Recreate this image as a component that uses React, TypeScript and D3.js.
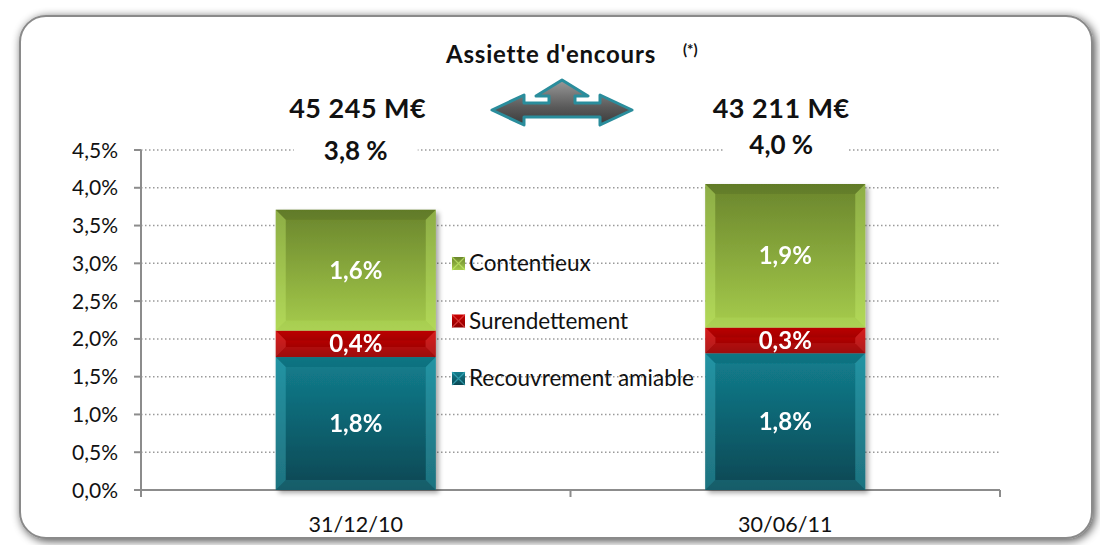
import * as d3 from 'd3'

const DATES = ['31/12/10', '30/06/11']
const SERIES = ['Recouvrement amiable', 'Surendettement', 'Contentieux']
const RECOUVREMENT = [1.76, 1.81]
const SURENDETTEMENT = [0.35, 0.34]
const CONTENTIEUX = [1.6, 1.9]
const LABELS_RECOUVREMENT = ['1,8%', '1,8%']
const LABELS_SURENDETTEMENT = ['0,4%', '0,3%']
const LABELS_CONTENTIEUX = ['1,6%', '1,9%']
const ENCOURS = ['45 245 M€', '43 211 M€']
const TAUX = ['3,8 %', '4,0 %']
const Y_TICKS = [0, 0.5, 1, 1.5, 2, 2.5, 3, 3.5, 4, 4.5]

const FONT = 'Lato, "Open Sans", sans-serif'

// gradient stops for each series: [top, bottom, bevel light]
const PALETTE = {
  'Recouvrement amiable': ['#137f8f', '#0a4753', '#3fb3c4'],
  'Surendettement': ['#cc0000', '#8a0000', '#e84a4a'],
  'Contentieux': ['#6a852c', '#a6cc4c', '#c4ec6c']
}

export default function App() {
  const W = 1100
  const H = 545
  const left = 141
  const right = 1000
  const top = 150
  const bottom = 490

  const x = d3.scaleBand().domain(DATES).range([left, right])
  const y = d3.scaleLinear().domain([0, 4.5]).range([bottom, top])
  const barW = 160

  const stackData = DATES.map((d, i) => ({
    date: d,
    'Recouvrement amiable': RECOUVREMENT[i],
    'Surendettement': SURENDETTEMENT[i],
    'Contentieux': CONTENTIEUX[i]
  }))
  const labelMap: Record<string, string[]> = {
    'Recouvrement amiable': LABELS_RECOUVREMENT,
    'Surendettement': LABELS_SURENDETTEMENT,
    'Contentieux': LABELS_CONTENTIEUX
  }
  const stacked = d3.stack<any>().keys(SERIES)(stackData)

  const fmt = (v: number) => v.toFixed(1).replace('.', ',') + '%'
  const bevel = 10

  // arrow shape around a centre point
  const ax = 562
  const ay = 110
  const arrow = d3.path()
  arrow.moveTo(ax - 70, ay)
  arrow.lineTo(ax - 38, ay - 15)
  arrow.lineTo(ax - 38, ay - 7)
  arrow.lineTo(ax - 13, ay - 7)
  arrow.lineTo(ax - 13, ay - 14)
  arrow.lineTo(ax - 26, ay - 14)
  arrow.lineTo(ax, ay - 30)
  arrow.lineTo(ax + 26, ay - 14)
  arrow.lineTo(ax + 13, ay - 14)
  arrow.lineTo(ax + 13, ay - 7)
  arrow.lineTo(ax + 38, ay - 7)
  arrow.lineTo(ax + 38, ay - 15)
  arrow.lineTo(ax + 70, ay)
  arrow.lineTo(ax + 38, ay + 15)
  arrow.lineTo(ax + 38, ay + 7)
  arrow.lineTo(ax - 38, ay + 7)
  arrow.lineTo(ax - 38, ay + 15)
  arrow.closePath()

  return (
    <svg width={W} height={H} style={{ display: 'block', position: 'absolute', left: 0, top: 0 }}>
      <defs>
        <filter id="frameShadow" x="-5%" y="-5%" width="110%" height="110%">
          <feGaussianBlur in="SourceAlpha" stdDeviation="5" />
          <feOffset dx="2" dy="2" result="b" />
          <feComponentTransfer><feFuncA type="linear" slope="0.7" /></feComponentTransfer>
          <feMerge><feMergeNode /><feMergeNode in="SourceGraphic" /></feMerge>
        </filter>
        <filter id="barShadow" x="-10%" y="-10%" width="125%" height="125%">
          <feGaussianBlur in="SourceAlpha" stdDeviation="2.5" />
          <feOffset dx="3" dy="3" />
          <feComponentTransfer><feFuncA type="linear" slope="0.35" /></feComponentTransfer>
          <feMerge><feMergeNode /><feMergeNode in="SourceGraphic" /></feMerge>
        </filter>
        <linearGradient id="arrowFill" x1="0" y1="0" x2="0" y2="1">
          <stop offset="0%" stopColor="#9a9a9a" />
          <stop offset="60%" stopColor="#5a5a5a" />
          <stop offset="100%" stopColor="#3a3a3a" />
        </linearGradient>
        {SERIES.map(s => (
          <linearGradient key={s} id={`g-${s.replace(/ /g, '')}`} x1="0" y1="0" x2="0" y2="1">
            <stop offset="0%" stopColor={PALETTE[s][0]} />
            <stop offset="100%" stopColor={PALETTE[s][1]} />
          </linearGradient>
        ))}
      </defs>

      {/* frame */}
      <rect x={20} y={16} width={1072} height={522} rx={26} fill="#fff" stroke="#8a8a8a" strokeWidth={2} filter="url(#frameShadow)" />

      {/* gridlines */}
      {Y_TICKS.filter(t => t > 0).map(t => (
        <line key={t} x1={left} x2={right} y1={y(t)} y2={y(t)} stroke="#9a9a9a" strokeWidth={1.5} strokeDasharray="1.5,2.5" />
      ))}

      {/* axes */}
      <line x1={left} x2={left} y1={top} y2={bottom + 7} stroke="#8c8c8c" strokeWidth={2} />
      {Y_TICKS.map(t => (
        <g key={t}>
          <line x1={left - 7} x2={left} y1={y(t)} y2={y(t)} stroke="#8c8c8c" strokeWidth={2} />
          <text x={left - 23} y={y(t)} dy="0.36em" textAnchor="end" fontFamily={FONT} fontSize={21} fill="#111">{fmt(t)}</text>
        </g>
      ))}
      <line x1={left} x2={right} y1={bottom} y2={bottom} stroke="#8c8c8c" strokeWidth={2} />
      {[left, ...DATES.map(d => (x(d) as number) + x.bandwidth())].map((px, i) => (
        <line key={i} x1={px} x2={px} y1={bottom} y2={bottom + 7} stroke="#8c8c8c" strokeWidth={2} />
      ))}
      {DATES.map(d => (
        <text key={d} x={(x(d) as number) + x.bandwidth() / 2} y={bottom + 42} textAnchor="middle" fontFamily={FONT} fontSize={21.5} fill="#111">{d}</text>
      ))}

      {/* bars */}
      {DATES.map((d, i) => {
        const cx = (x(d) as number) + x.bandwidth() / 2
        const x0 = cx - barW / 2
        const x1 = cx + barW / 2
        return (
          <g key={d} filter="url(#barShadow)">
            {stacked.map(layer => {
              const s = layer.key
              const y0 = y(layer[i][1])
              const y1 = y(layer[i][0])
              const h = y1 - y0
              const b = Math.min(bevel, h / 2)
              const light = PALETTE[s][2]
              return (
                <g key={s}>
                  <rect x={x0} y={y0} width={barW} height={h} fill={`url(#g-${s.replace(/ /g, '')})`} />
                  <polygon points={`${x0},${y0} ${x0 + b},${y0 + b} ${x0 + b},${y1 - b} ${x0},${y1}`} fill={light} opacity={0.4} />
                  <polygon points={`${x1},${y0} ${x1 - b},${y0 + b} ${x1 - b},${y1 - b} ${x1},${y1}`} fill={light} opacity={0.4} />
                  <polygon points={`${x0},${y0} ${x1},${y0} ${x1 - b},${y0 + b} ${x0 + b},${y0 + b}`} fill="#000" opacity={0.08} />
                  <polygon points={`${x0},${y1} ${x1},${y1} ${x1 - b},${y1 - b} ${x0 + b},${y1 - b}`} fill={light} opacity={0.2} />
                  <text x={cx} y={(y0 + y1) / 2} dy="0.36em" textAnchor="middle" fontFamily={FONT} fontWeight="bold" fontSize={24} fill="#fff">{labelMap[s][i]}</text>
                </g>
              )
            })}
          </g>
        )
      })}

      {/* legend */}
      {[...SERIES].reverse().map((s, i) => {
        const ly = 263 + i * 57.5
        return (
          <g key={s}>
            <rect x={452} y={ly - 6} width={13} height={13} fill={`url(#g-${s.replace(/ /g, '')})`} />
            <path d={`M452,${ly - 6} L465,${ly + 7} M465,${ly - 6} L452,${ly + 7}`} stroke={PALETTE[s][2]} strokeWidth={1.2} opacity={0.7} />
            <text x={469} y={ly} dy="0.36em" fontFamily={FONT} fontSize={22.5} fill="#111">{s}</text>
          </g>
        )
      })}

      {/* header: title, arrow, totals */}
      <text x={551} y={63} textAnchor="middle" fontFamily={FONT} fontWeight="bold" fontSize={24} letterSpacing={0.8} fill="#111">Assiette d'encours</text>
      <text x={683} y={55} fontFamily={FONT} fontWeight="bold" fontSize={15} fill="#111">(*)</text>
      <path d={arrow.toString()} fill="url(#arrowFill)" stroke="#2a8d9c" strokeWidth={3} strokeLinejoin="round" />

      {DATES.map((d, i) => {
        const cx = (x(d) as number) + x.bandwidth() / 2
        return (
          <g key={d}>
            <text x={cx + (i === 0 ? 2 : -4)} y={118} textAnchor="middle" fontFamily={FONT} fontWeight="bold" fontSize={27} letterSpacing={0.5} fill="#111">{ENCOURS[i]}</text>
            <rect x={cx - 62} y={129} width={124} height={34} fill="#fff" />
            <text x={cx - (i === 0 ? 0 : 4)} y={y(4.5) + (i === 0 ? 7 : 1)} dy="0.1em" textAnchor="middle" fontFamily={FONT} fontWeight="bold" fontSize={26} fill="#111">{TAUX[i]}</text>
          </g>
        )
      })}
    </svg>
  )
}
